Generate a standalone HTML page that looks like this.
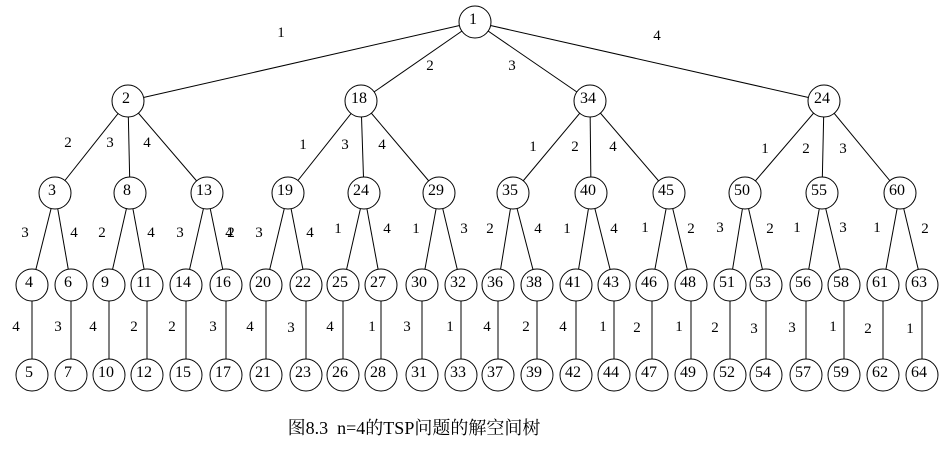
<!DOCTYPE html>
<html><head><meta charset="utf-8"><style>
html,body{margin:0;padding:0;background:#fff;}
svg{display:block;}
text{font-family:"Liberation Serif","Noto Serif CJK SC",serif;font-size:15px;fill:#000;text-anchor:middle;}
.n{font-size:16px;}
circle{fill:#fff;stroke:#000;stroke-width:1;}
line{stroke:#000;stroke-width:1;}
</style></head><body>
<svg width="942" height="449" viewBox="0 0 942 449" xmlns="http://www.w3.org/2000/svg">
<g>
<line x1="475" y1="22" x2="128" y2="101"/><line x1="475" y1="22" x2="361" y2="101"/><line x1="475" y1="22" x2="590" y2="101"/><line x1="475" y1="22" x2="824" y2="101"/>
<line x1="128" y1="101" x2="55" y2="193"/><line x1="128" y1="101" x2="130" y2="193"/><line x1="128" y1="101" x2="207" y2="193"/>
<line x1="361" y1="101" x2="288" y2="193"/><line x1="361" y1="101" x2="364" y2="193"/><line x1="361" y1="101" x2="439" y2="193"/>
<line x1="590" y1="101" x2="513" y2="193"/><line x1="590" y1="101" x2="591" y2="193"/><line x1="590" y1="101" x2="669" y2="193"/>
<line x1="824" y1="101" x2="745" y2="193"/><line x1="824" y1="101" x2="822" y2="193"/><line x1="824" y1="101" x2="900" y2="193"/>
<line x1="55" y1="193" x2="32" y2="285"/><line x1="55" y1="193" x2="71" y2="285"/>
<line x1="130" y1="193" x2="109" y2="285"/><line x1="130" y1="193" x2="147" y2="285"/>
<line x1="207" y1="193" x2="186" y2="285"/><line x1="207" y1="193" x2="226" y2="285"/>
<line x1="288" y1="193" x2="266" y2="285"/><line x1="288" y1="193" x2="306" y2="285"/>
<line x1="364" y1="193" x2="343" y2="285"/><line x1="364" y1="193" x2="381" y2="285"/>
<line x1="439" y1="193" x2="422" y2="285"/><line x1="439" y1="193" x2="461" y2="285"/>
<line x1="513" y1="193" x2="498" y2="285"/><line x1="513" y1="193" x2="537" y2="285"/>
<line x1="591" y1="193" x2="576" y2="285"/><line x1="591" y1="193" x2="614" y2="285"/>
<line x1="669" y1="193" x2="652" y2="285"/><line x1="669" y1="193" x2="691" y2="285"/>
<line x1="745" y1="193" x2="730" y2="285"/><line x1="745" y1="193" x2="766" y2="285"/>
<line x1="822" y1="193" x2="806" y2="285"/><line x1="822" y1="193" x2="844" y2="285"/>
<line x1="900" y1="193" x2="883" y2="285"/><line x1="900" y1="193" x2="922" y2="285"/>
<line x1="32" y1="285" x2="32" y2="375"/><line x1="71" y1="285" x2="71" y2="375"/><line x1="109" y1="285" x2="109" y2="375"/><line x1="147" y1="285" x2="147" y2="375"/>
<line x1="186" y1="285" x2="186" y2="375"/><line x1="226" y1="285" x2="226" y2="375"/><line x1="266" y1="285" x2="266" y2="375"/><line x1="306" y1="285" x2="306" y2="375"/>
<line x1="343" y1="285" x2="343" y2="375"/><line x1="381" y1="285" x2="381" y2="375"/><line x1="422" y1="285" x2="422" y2="375"/><line x1="461" y1="285" x2="461" y2="375"/>
<line x1="498" y1="285" x2="498" y2="375"/><line x1="537" y1="285" x2="537" y2="375"/><line x1="576" y1="285" x2="576" y2="375"/><line x1="614" y1="285" x2="614" y2="375"/>
<line x1="652" y1="285" x2="652" y2="375"/><line x1="691" y1="285" x2="691" y2="375"/><line x1="730" y1="285" x2="730" y2="375"/><line x1="766" y1="285" x2="766" y2="375"/>
<line x1="806" y1="285" x2="806" y2="375"/><line x1="844" y1="285" x2="844" y2="375"/><line x1="883" y1="285" x2="883" y2="375"/><line x1="922" y1="285" x2="922" y2="375"/>
</g>
<g>
<circle cx="475" cy="22" r="16"/>
<circle cx="128" cy="101" r="16"/><circle cx="361" cy="101" r="16"/><circle cx="590" cy="101" r="16"/><circle cx="824" cy="101" r="16"/>
<circle cx="55" cy="193" r="16"/><circle cx="130" cy="193" r="16"/><circle cx="207" cy="193" r="16"/><circle cx="288" cy="193" r="16"/><circle cx="364" cy="193" r="16"/><circle cx="439" cy="193" r="16"/>
<circle cx="513" cy="193" r="16"/><circle cx="591" cy="193" r="16"/><circle cx="669" cy="193" r="16"/><circle cx="745" cy="193" r="16"/><circle cx="822" cy="193" r="16"/><circle cx="900" cy="193" r="16"/>
<circle cx="32" cy="285" r="16"/><circle cx="71" cy="285" r="16"/><circle cx="109" cy="285" r="16"/><circle cx="147" cy="285" r="16"/><circle cx="186" cy="285" r="16"/><circle cx="226" cy="285" r="16"/>
<circle cx="266" cy="285" r="16"/><circle cx="306" cy="285" r="16"/><circle cx="343" cy="285" r="16"/><circle cx="381" cy="285" r="16"/><circle cx="422" cy="285" r="16"/><circle cx="461" cy="285" r="16"/>
<circle cx="498" cy="285" r="16"/><circle cx="537" cy="285" r="16"/><circle cx="576" cy="285" r="16"/><circle cx="614" cy="285" r="16"/><circle cx="652" cy="285" r="16"/><circle cx="691" cy="285" r="16"/>
<circle cx="730" cy="285" r="16"/><circle cx="766" cy="285" r="16"/><circle cx="806" cy="285" r="16"/><circle cx="844" cy="285" r="16"/><circle cx="883" cy="285" r="16"/><circle cx="922" cy="285" r="16"/>
<circle cx="32" cy="375" r="16"/><circle cx="71" cy="375" r="16"/><circle cx="109" cy="375" r="16"/><circle cx="147" cy="375" r="16"/><circle cx="186" cy="375" r="16"/><circle cx="226" cy="375" r="16"/>
<circle cx="266" cy="375" r="16"/><circle cx="306" cy="375" r="16"/><circle cx="343" cy="375" r="16"/><circle cx="381" cy="375" r="16"/><circle cx="422" cy="375" r="16"/><circle cx="461" cy="375" r="16"/>
<circle cx="498" cy="375" r="16"/><circle cx="537" cy="375" r="16"/><circle cx="576" cy="375" r="16"/><circle cx="614" cy="375" r="16"/><circle cx="652" cy="375" r="16"/><circle cx="691" cy="375" r="16"/>
<circle cx="730" cy="375" r="16"/><circle cx="766" cy="375" r="16"/><circle cx="806" cy="375" r="16"/><circle cx="844" cy="375" r="16"/><circle cx="883" cy="375" r="16"/><circle cx="922" cy="375" r="16"/>
</g>
<g class="nodes">
<text class="n" x="473" y="24">1</text>
<text class="n" x="126" y="103">2</text><text class="n" x="359" y="103">18</text><text class="n" x="588" y="103">34</text><text class="n" x="822" y="103">24</text>
<text class="n" x="52" y="195">3</text><text class="n" x="127" y="195">8</text><text class="n" x="204" y="195">13</text><text class="n" x="285" y="195">19</text><text class="n" x="361" y="195">24</text><text class="n" x="436" y="195">29</text>
<text class="n" x="510" y="195">35</text><text class="n" x="588" y="195">40</text><text class="n" x="666" y="195">45</text><text class="n" x="742" y="195">50</text><text class="n" x="819" y="195">55</text><text class="n" x="897" y="195">60</text>
<text class="n" x="29" y="287">4</text><text class="n" x="68" y="287">6</text><text class="n" x="105" y="287">9</text><text class="n" x="144" y="287">11</text><text class="n" x="183" y="287">14</text><text class="n" x="223" y="287">16</text>
<text class="n" x="263" y="287">20</text><text class="n" x="303" y="287">22</text><text class="n" x="340" y="287">25</text><text class="n" x="378" y="287">27</text><text class="n" x="419" y="287">30</text><text class="n" x="458" y="287">32</text>
<text class="n" x="495" y="287">36</text><text class="n" x="534" y="287">38</text><text class="n" x="573" y="287">41</text><text class="n" x="611" y="287">43</text><text class="n" x="649" y="287">46</text><text class="n" x="688" y="287">48</text>
<text class="n" x="727" y="287">51</text><text class="n" x="763" y="287">53</text><text class="n" x="803" y="287">56</text><text class="n" x="841" y="287">58</text><text class="n" x="880" y="287">61</text><text class="n" x="919" y="287">63</text>
<text class="n" x="29" y="377">5</text><text class="n" x="68" y="377">7</text><text class="n" x="106" y="377">10</text><text class="n" x="144" y="377">12</text><text class="n" x="183" y="377">15</text><text class="n" x="223" y="377">17</text>
<text class="n" x="263" y="377">21</text><text class="n" x="303" y="377">23</text><text class="n" x="340" y="377">26</text><text class="n" x="378" y="377">28</text><text class="n" x="419" y="377">31</text><text class="n" x="458" y="377">33</text>
<text class="n" x="495" y="377">37</text><text class="n" x="534" y="377">39</text><text class="n" x="573" y="377">42</text><text class="n" x="611" y="377">44</text><text class="n" x="649" y="377">47</text><text class="n" x="688" y="377">49</text>
<text class="n" x="727" y="377">52</text><text class="n" x="763" y="377">54</text><text class="n" x="803" y="377">57</text><text class="n" x="841" y="377">59</text><text class="n" x="880" y="377">62</text><text class="n" x="919" y="377">64</text>
</g>
<g class="labels">
<text x="281" y="37">1</text><text x="430" y="70">2</text><text x="512" y="70">3</text><text x="657" y="40">4</text>
<text x="68" y="147">2</text><text x="110" y="147">3</text><text x="147" y="147">4</text>
<text x="303" y="149">1</text><text x="345" y="149">3</text><text x="382" y="149">4</text>
<text x="533" y="151">1</text><text x="575" y="151">2</text><text x="613" y="151">4</text>
<text x="765" y="153">1</text><text x="806" y="153">2</text><text x="843" y="153">3</text>
<text x="25" y="237">3</text><text x="74" y="237">4</text><text x="102" y="237">2</text><text x="151" y="237">4</text>
<text x="180" y="237">3</text><text x="229" y="237">4</text><text x="231" y="237">2</text><text x="259" y="237">3</text><text x="310" y="237">4</text>
<text x="338" y="233">1</text><text x="387" y="233">4</text><text x="416" y="233">1</text><text x="464" y="233">3</text>
<text x="490" y="233">2</text><text x="538" y="233">4</text><text x="567" y="233">1</text><text x="614" y="233">4</text>
<text x="645" y="232">1</text><text x="691" y="233">2</text><text x="720" y="232">3</text><text x="770" y="233">2</text>
<text x="797" y="232">1</text><text x="843" y="232">3</text><text x="877" y="232">1</text><text x="925" y="233">2</text>
<text x="16" y="331">4</text><text x="58" y="331">3</text><text x="93" y="331">4</text><text x="134" y="331">2</text><text x="172" y="331">2</text><text x="213" y="331">3</text>
<text x="250" y="331">4</text><text x="291" y="332">3</text><text x="330" y="331">4</text><text x="372" y="331">1</text><text x="407" y="331">3</text><text x="450" y="331">1</text>
<text x="487" y="331">4</text><text x="526" y="331">2</text><text x="563" y="331">4</text><text x="603" y="331">1</text><text x="637" y="332">2</text><text x="679" y="331">1</text>
<text x="715" y="332">2</text><text x="754" y="333">3</text><text x="792" y="332">3</text><text x="833" y="331">1</text><text x="868" y="333">2</text><text x="910" y="333">1</text>
</g>
<text x="414" y="434" xml:space="preserve" style="font-size:18px;font-family:'Liberation Serif','Noto Serif CJK SC',serif;">图8.3  n=4的TSP问题的解空间树</text>
</svg>
</body></html>
